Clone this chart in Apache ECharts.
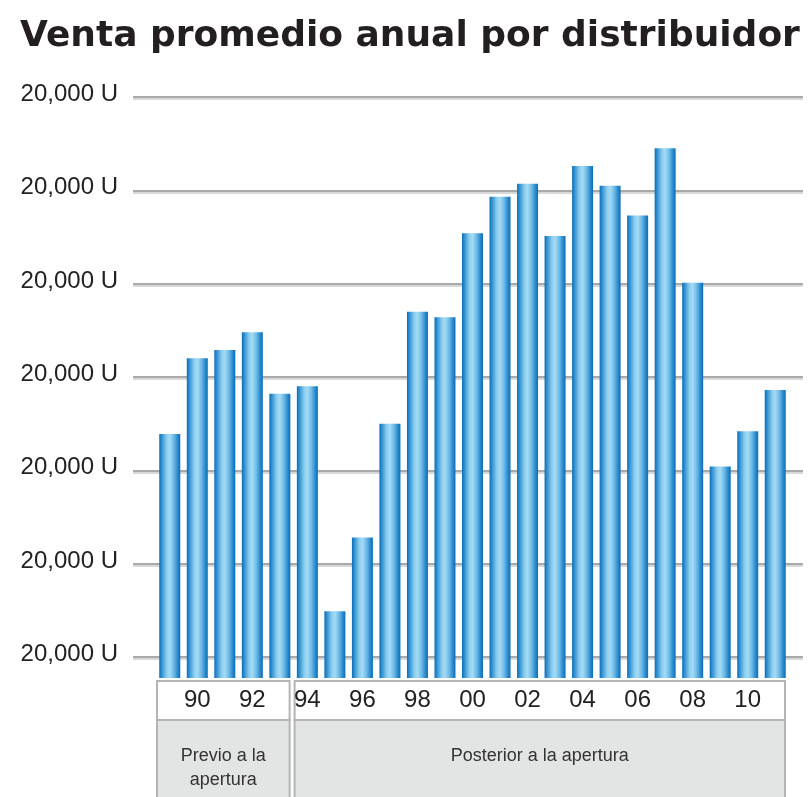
<!DOCTYPE html>
<html>
<head>
    <meta charset="UTF-8">
    <script src="https://cdn.jsdelivr.net/npm/echarts@6/dist/echarts.min.js"></script>
    <style>
        html, body { margin: 0; padding: 0; background: #fff; }
        #main { width: 808px; height: 797px; }
    </style>
</head>
<body>
<div id="main"></div>
<script>
    // datos
    var years = ['89', '90', '91', '92', '93', '94', '95', '96', '97', '98', '99', '00',
        '01', '02', '03', '04', '05', '06', '07', '08', '09', '10', '11'];
    var sales = [239, 320, 329, 348, 282, 290, 49, 128, 250, 370, 364, 454,
        493, 507, 451, 526, 505, 473, 545, 401, 204, 242, 286];
    var yTicks = [0, 100, 200, 300, 400, 500, 600];
    var yTickLabel = '20,000 U';
    var groupNames = ['Previo a la\napertura', 'Posterior a la apertura'];
    var groupStart = [0, 5];
    var groupEnd = [4, 22];

    var labelFont = '"Liberation Sans", Arial, sans-serif';

    function renderGroupBox(params, api) {
        var cs = params.coordSys;
        var band = api.size([1, 0])[0];
        var x0 = api.coord([api.value(0), 0])[0] - band / 2 + 1;
        var x1 = api.coord([api.value(1), 0])[0] + band / 2 - 4;
        var top = cs.y;
        var rowH = 39;
        return {
            type: 'group',
            children: [
                {
                    type: 'rect',
                    shape: {x: x0, y: top, width: x1 - x0, height: rowH},
                    style: {fill: '#fff', stroke: '#b4b4b4', lineWidth: 2}
                },
                {
                    type: 'rect',
                    shape: {x: x0, y: top + rowH, width: x1 - x0, height: cs.height},
                    style: {fill: '#e3e4e4', stroke: '#b4b4b4', lineWidth: 2}
                },
                {
                    type: 'text',
                    style: {
                        text: groupNames[params.dataIndex],
                        x: (x0 + x1) / 2,
                        y: top + rowH + 24,
                        align: 'center',
                        verticalAlign: 'top',
                        font: '18px ' + labelFont,
                        lineHeight: 24,
                        fill: '#333'
                    }
                }
            ]
        };
    }

    var chart = echarts.init(document.getElementById('main'));
    var option = {
        animation: false,
        backgroundColor: '#fff',
        title: {
            text: 'Venta promedio anual por distribuidor',
            left: 15,
            top: 14,
            textStyle: {
                fontFamily: '"DejaVu Sans", sans-serif',
                fontWeight: 'bold',
                fontSize: 36,
                lineHeight: 36,
                color: '#231f20'
            }
        },
        grid: [
            // lineas de fondo
            {left: 133, right: 5, top: 97, bottom: 140},
            // barras
            {left: 156, right: 19, top: 97, bottom: 119},
            // cajas de los grupos
            {left: 156, right: 19, top: 681, bottom: -10}
        ],
        xAxis: [
            {gridIndex: 0, type: 'value', show: false},
            {
                gridIndex: 1,
                type: 'category',
                data: years,
                z: 5,
                axisLine: {show: false},
                axisTick: {show: false},
                axisLabel: {
                    interval: function (i) { return i % 2 === 1; },
                    margin: 10,
                    fontFamily: labelFont,
                    fontSize: 24,
                    color: '#222'
                }
            },
            {gridIndex: 2, type: 'category', data: years, show: false}
        ],
        yAxis: [
            {
                gridIndex: 0,
                type: 'value',
                min: yTicks[0],
                max: yTicks[yTicks.length - 1],
                interval: yTicks[1] - yTicks[0],
                axisLine: {show: false},
                axisTick: {show: false},
                axisLabel: {
                    margin: 15,
                    formatter: function () { return yTickLabel; },
                    fontFamily: labelFont,
                    fontSize: 24,
                    color: '#222',
                    verticalAlign: 'bottom',
                    lineHeight: 5
                },
                splitLine: {
                    lineStyle: {
                        color: '#a9a9a9', width: 2,
                        shadowColor: '#d8d8d8', shadowOffsetY: 2, shadowBlur: 0
                    }
                }
            },
            // las barras arrancan por debajo de la ultima linea
            {gridIndex: 1, type: 'value', min: -22.5, max: 600, startValue: -22.5, show: false},
            {gridIndex: 2, type: 'value', min: 0, max: 1, show: false}
        ],
        series: [
            {
                type: 'bar',
                xAxisIndex: 1,
                yAxisIndex: 1,
                data: sales,
                barWidth: 21,
                itemStyle: {
                    color: new echarts.graphic.LinearGradient(0, 0, 1, 0, [
                        {offset: 0, color: '#0a6cb4'},
                        {offset: 0.1, color: '#2a8ccf'},
                        {offset: 0.35, color: '#8ccdee'},
                        {offset: 0.5, color: '#a4dbf5'},
                        {offset: 0.7, color: '#6bb9e6'},
                        {offset: 0.88, color: '#2a88cb'},
                        {offset: 1, color: '#0b6db5'}
                    ])
                }
            },
            {
                type: 'custom',
                xAxisIndex: 2,
                yAxisIndex: 2,
                z: 0,
                silent: true,
                renderItem: renderGroupBox,
                data: groupStart.map(function (s, i) { return [s, groupEnd[i]]; })
            }
        ]
    };
    chart.setOption(option);
</script>
</body>
</html>
